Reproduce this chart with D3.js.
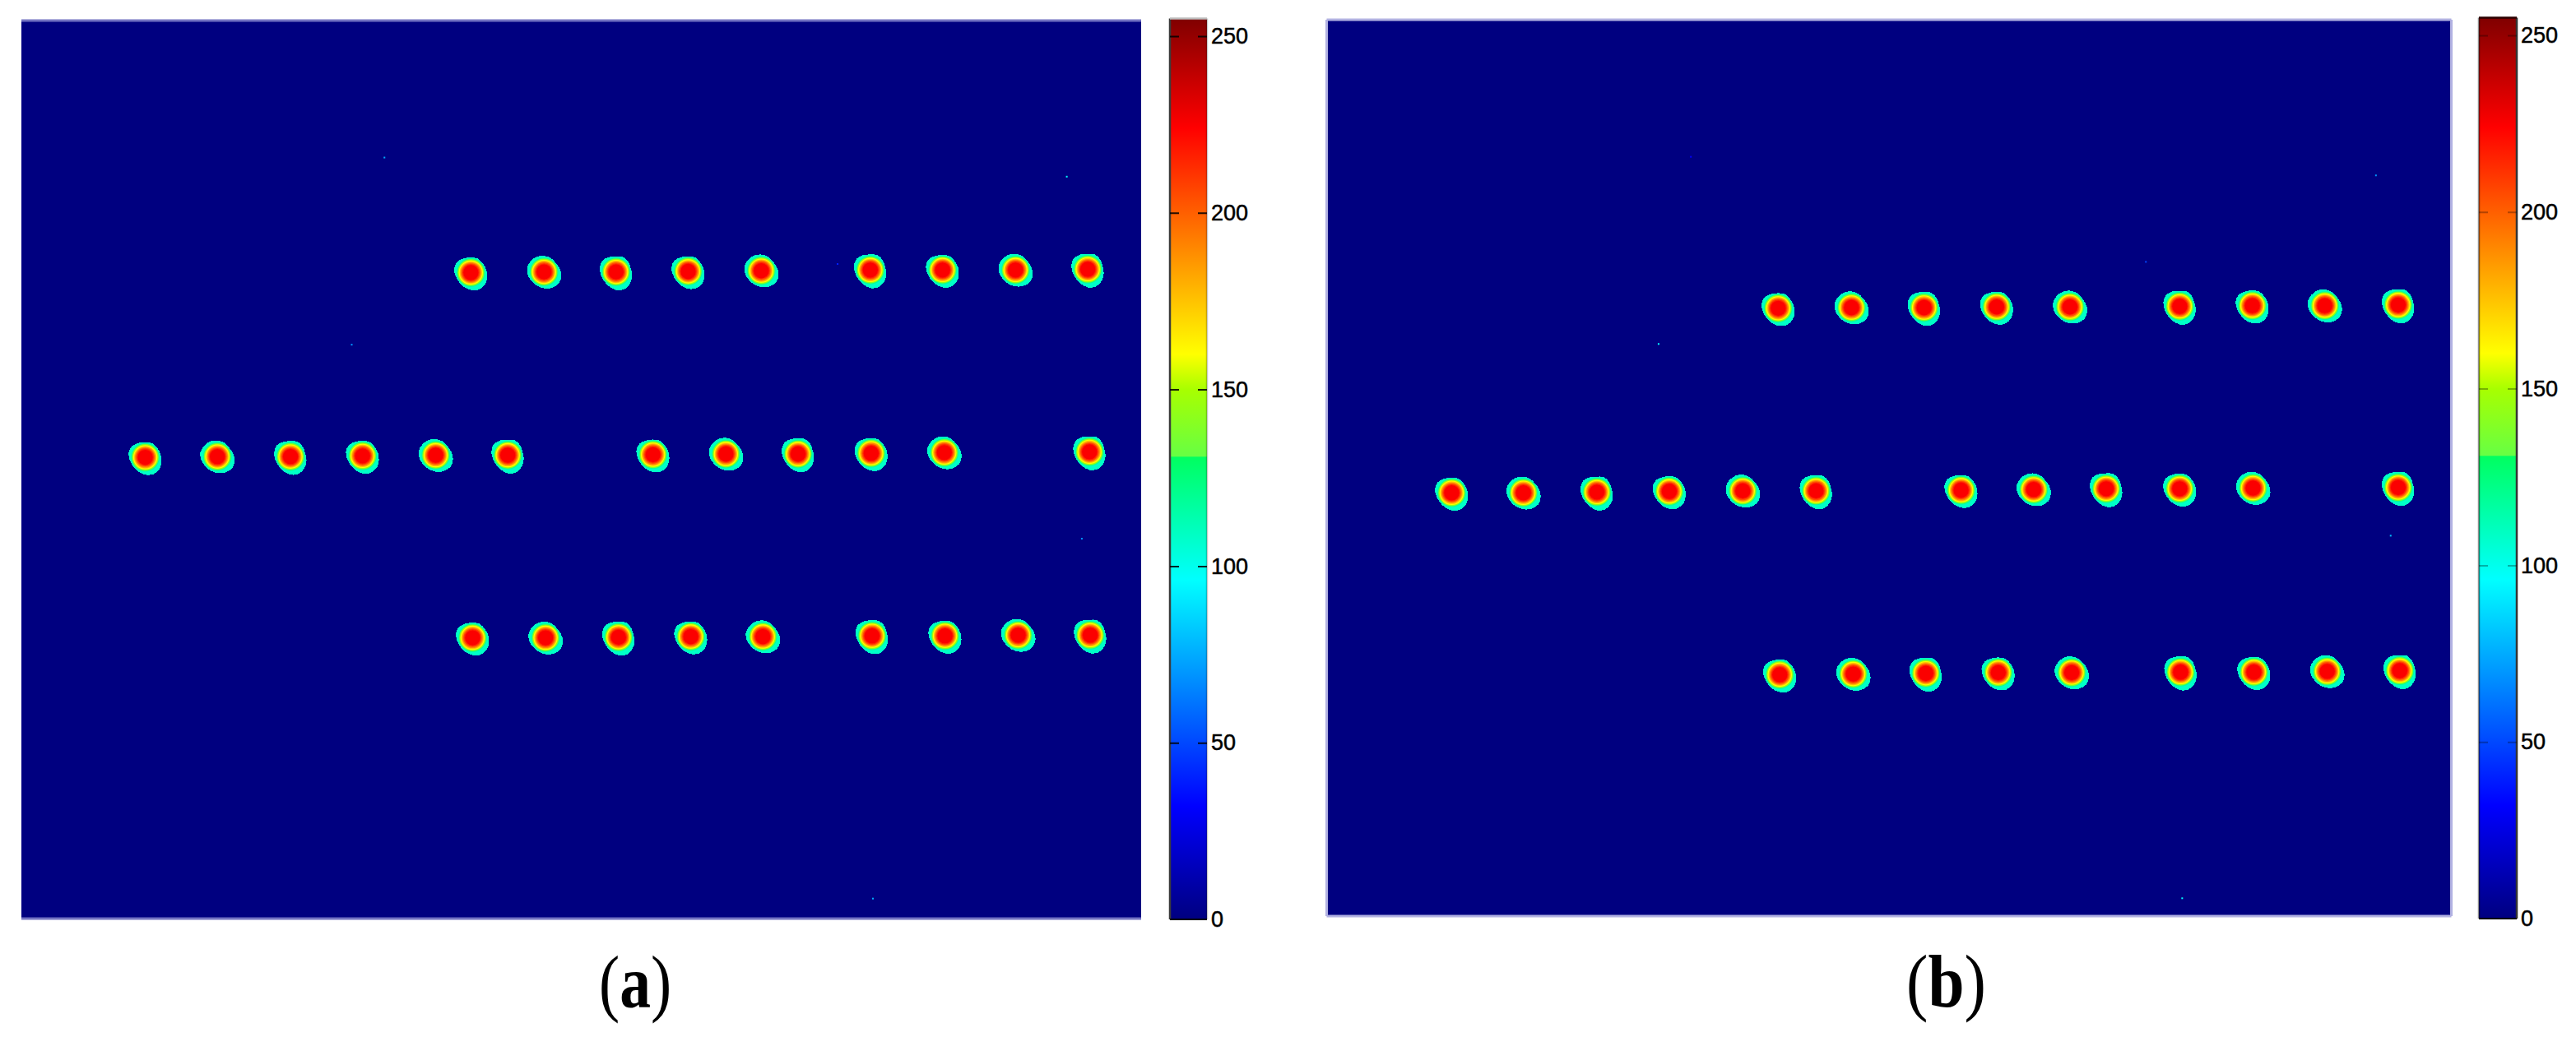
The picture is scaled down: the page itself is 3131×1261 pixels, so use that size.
<!DOCTYPE html>
<html>
<head>
<meta charset="utf-8">
<style>
  html, body { margin: 0; padding: 0; background: #fff; }
  svg { display: block; }
  .tick text { font-family: "Liberation Sans", Arial, sans-serif; font-size: 27px; fill: #000; stroke: #000; stroke-width: .5px; }
  .caption { font-family: "Liberation Serif", "Times New Roman", serif; font-size: 90px; fill: #000; }
</style>
<script src="https://cdnjs.cloudflare.com/ajax/libs/d3/7.8.5/d3.min.js"></script>
</head>
<body>
<div id="chart"></div>
<script>
// spot centres, in sensor pixels (640 x 512 frame)
const aTopX = [256.9, 298.7, 339.9, 381.1, 422.9, 485.2, 526.5, 568.2, 609.5];
const aTopY = [143.7, 143.3, 143.3, 143.0, 142.6, 142.2, 142.2, 142.2, 141.8];
const aMidX = [70.8, 112.0, 153.8, 195.0, 236.8, 278.0, 361.0, 402.7, 443.9, 485.7, 527.5, 610.5];
const aMidY = [249.0, 248.6, 248.6, 248.2, 247.8, 247.8, 247.5, 247.1, 247.1, 246.7, 246.3, 245.9];
const aBotX = [257.9, 299.6, 341.3, 382.6, 423.8, 486.2, 527.9, 569.7, 610.9];
const aBotY = [351.9, 351.9, 351.6, 351.2, 351.2, 350.8, 350.8, 350.4, 350.4];

const bTopX = [256.8, 298.6, 340.0, 381.4, 423.2, 485.8, 527.2, 568.5, 610.4];
const bTopY = [164.8, 164.4, 164.4, 164.0, 164.0, 163.7, 163.3, 163.3, 162.9];
const bMidX = [70.6, 111.5, 153.4, 194.7, 236.6, 278.4, 361.1, 402.5, 443.9, 485.8, 527.6, 610.4];
const bMidY = [270.2, 270.2, 269.8, 269.4, 269.1, 269.1, 268.7, 268.3, 267.9, 267.9, 267.5, 267.2];
const bBotX = [257.7, 299.6, 341.0, 382.3, 424.2, 486.3, 528.1, 569.9, 611.3];
const bBotY = [374.1, 373.7, 373.3, 372.9, 372.9, 372.6, 372.6, 372.2, 371.8];

// lone hot pixels: x, y, grey value
const aNoise = [[207.5, 78.1, 75], [597.5, 89.0, 95], [188.8, 184.8, 70], [466.5, 138.8, 40], [606.1, 295.4, 70], [486.7, 500.6, 75]];
const bNoise = [[207, 78.3, 30], [597.7, 88.9, 70], [466.5, 138.3, 50], [188.6, 185.2, 95], [606.1, 294.7, 80], [487.2, 501.8, 95]];

// radial profile of one spot: grey value against radius in sensor pixels
const ringValues = [108, 118, 132, 148, 160, 175, 190, 205, 215, 225];
const ringRadii = [9.6, 8.2, 7.7, 7.3, 6.9, 6.4, 5.9, 5.3, 4.8, 4.3];
// the outer edge is not round, radius factors going clockwise from the top
const edgeShapes = [
	[.9, .93, .9, .93, 1.0, 1.1, 1.12, 1.04, .95, .9, .93, 1.02, 1.04, .94],
	[.96, .92, .88, .95, 1.06, 1.12, 1.06, .98, .93, .92, .98, 1.04, 1.02, 1.0],
	[.92, .98, .94, .9, .98, 1.08, 1.14, 1.08, .96, .9, .92, 1.0, 1.06, .98]
];

// colour bar
const tickValues = [0, 50, 100, 150, 200, 250];
const jetValues = [0, 32, 96, 130.9, 131, 150, 160, 224, 255];
const jetColors = ["#000080", "#0000ff", "#00ffff", "#00ff60", "#66ff44", "#a8ff00", "#ffff00", "#ff0000", "#800000"];

const width = 3131, height = 1261;

const jet = d3.scaleLinear().domain(jetValues).range(jetColors);

const svg = d3.select("#chart").append("svg")
	.attr("width", width)
	.attr("height", height);

const defs = svg.append("defs");
defs.append("linearGradient")
	.attr("id", "jetGrad")
	.attr("x1", 0).attr("x2", 0).attr("y1", 1).attr("y2", 0)
	.selectAll("stop")
	.data(jetValues)
	.enter()
	.append("stop")
	.attr("offset", function (d) { return d / 255; })
	.attr("stop-color", function (d) { return jet(d); });

function drawPanel(cfg) {
	const x = d3.scaleLinear().domain([0, 640]).range([cfg.x0, cfg.x1]);
	const y = d3.scaleLinear().domain([0, 512]).range([cfg.y0, cfg.y1]);
	const k = (cfg.x1 - cfg.x0) / 640;

	const g = svg.append("g");

	g.append("rect")
		.attr("x", cfg.x0)
		.attr("y", cfg.y0)
		.attr("width", cfg.x1 - cfg.x0)
		.attr("height", cfg.y1 - cfg.y0)
		.attr("fill", "#000080");

	// frame of the image
	cfg.frame.forEach(function (f) {
		g.append("line")
			.attr("x1", f[0]).attr("y1", f[1])
			.attr("x2", f[2]).attr("y2", f[3])
			.attr("stroke", cfg.frameColor)
			.attr("stroke-width", 3);
	});

	const spots = [];
	cfg.rows.forEach(function (row) {
		row[0].forEach(function (v, i) {
			spots.push([v, row[1][i]]);
		});
	});

	const edge = d3.lineRadial()
		.angle(function (d, i, a) { return i / a.length * 2 * Math.PI; })
		.radius(function (d) { return d * ringRadii[0] * k; })
		.curve(d3.curveCardinalClosed);

	const spot = g.selectAll(".spot")
		.data(spots)
		.enter()
		.append("g")
		.attr("class", "spot")
		.attr("transform", function (d) { return "translate(" + x(d[0]) + "," + y(d[1]) + ")"; });

	spot.append("path")
		.attr("d", function (d, i) { return edge(edgeShapes[i % edgeShapes.length]); })
		.attr("fill", jet(ringValues[0]))
		.attr("shape-rendering", "crispEdges");

	ringValues.slice(1).forEach(function (v, i) {
		spot.append("circle")
			.attr("r", ringRadii[i + 1] * k)
			.attr("fill", jet(v));
	});

	g.selectAll(".noise")
		.data(cfg.noise)
		.enter()
		.append("rect")
		.attr("class", "noise")
		.attr("x", function (d) { return x(d[0]) - 1; })
		.attr("y", function (d) { return y(d[1]) - 1; })
		.attr("width", 2)
		.attr("height", 2)
		.attr("fill", function (d) { return jet(d[2]); });

	// colour bar
	const c = d3.scaleLinear().domain([0, 250]).range([cfg.bar.y0, cfg.bar.y250]);
	const barTop = c(255), barW = cfg.bar.x1 - cfg.bar.x0;
	const bar = g.append("g").attr("transform", "translate(" + cfg.bar.x1 + ",0)");

	bar.append("rect")
		.attr("x", -barW)
		.attr("y", barTop)
		.attr("width", barW)
		.attr("height", cfg.bar.y0 - barTop)
		.attr("fill", "url(#jetGrad)");

	bar.append("line").attr("x1", -barW).attr("x2", -barW).attr("y1", barTop).attr("y2", cfg.bar.y0)
		.attr("stroke", cfg.bar.left).attr("stroke-width", 2.5).attr("stroke-opacity", cfg.bar.leftOpacity);
	bar.append("line").attr("x1", 0).attr("x2", 0).attr("y1", barTop).attr("y2", cfg.bar.y0)
		.attr("stroke", cfg.bar.right).attr("stroke-width", 2.5).attr("stroke-opacity", cfg.bar.rightOpacity);
	bar.append("line").attr("x1", -barW).attr("x2", 0).attr("y1", barTop).attr("y2", barTop)
		.attr("stroke", cfg.bar.top).attr("stroke-width", 2.5);
	bar.append("line").attr("x1", -barW).attr("x2", 0).attr("y1", cfg.bar.y0).attr("y2", cfg.bar.y0)
		.attr("stroke", "#000").attr("stroke-width", 2);

	const axis = d3.axisRight(c)
		.tickValues(tickValues)
		.tickFormat(d3.format("d"))
		.tickSize(-barW)
		.tickPadding(5);

	const ax = bar.append("g").call(axis);
	ax.select(".domain").remove();
	ax.selectAll(".tick line")
		.attr("stroke", "#000")
		.attr("stroke-opacity", function (d) { return d === 0 ? 0 : cfg.bar.tickOpacity; })
		.attr("stroke-width", 2)
		.attr("stroke-dasharray", "11 " + (barW - 22) + " 11");
	ax.selectAll(".tick text")
		.attr("text-anchor", "start")
		.attr("font-family", null)
		.attr("font-size", null);

	// caption, squeezed sideways to the width it has in the figure
	const cap = svg.append("text")
		.attr("class", "caption")
		.attr("transform", "translate(" + cfg.cap.x + "," + cfg.cap.y + ") scale(" + cfg.cap.sx + ",1)");
	cap.append("tspan").text("(");
	cap.append("tspan").attr("font-weight", "bold").text(cfg.cap.label);
	cap.append("tspan").text(")");
}

drawPanel({
	x0: 26, x1: 1387, y0: 25, y1: 1117,
	frame: [[26, 25, 1387, 25], [26, 1117, 1387, 1117]],
	frameColor: "#7272c2",
	rows: [[aTopX, aTopY], [aMidX, aMidY], [aBotX, aBotY]],
	noise: aNoise,
	bar: { x0: 1422, x1: 1467, y0: 1118, y250: 44, left: "#3c3c3c", leftOpacity: 1, right: "#000", rightOpacity: .22, top: "#bdbdbd", tickOpacity: .85 },
	cap: { x: 728, y: 1225, sx: .84, label: "a" }
});

drawPanel({
	x0: 1614, x1: 2978, y0: 24, y1: 1114,
	frame: [[1612.5, 24, 2979.5, 24], [1612.5, 1114, 2979.5, 1114], [1612.5, 24, 1612.5, 1114], [2979.5, 24, 2979.5, 1114]],
	frameColor: "#b2b2e2",
	rows: [[bTopX, bTopY], [bMidX, bMidY], [bBotX, bBotY]],
	noise: bNoise,
	bar: { x0: 3013, x1: 3059, y0: 1117, y250: 43, left: "#000", leftOpacity: .45, right: "#333", rightOpacity: 1, top: "#2a0000", tickOpacity: .3 },
	cap: { x: 2317, y: 1224, sx: .88, label: "b" }
});
</script>
</body>
</html>
